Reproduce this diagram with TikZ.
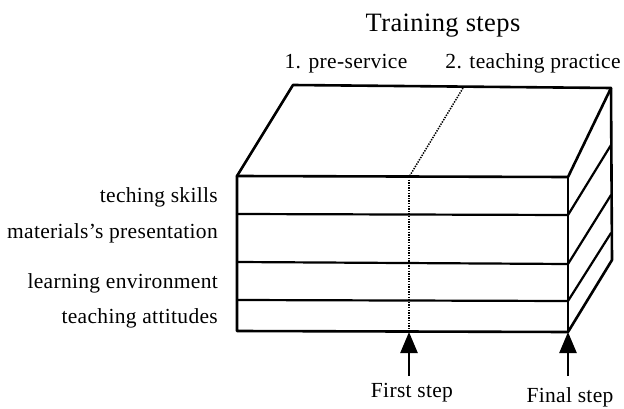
\documentclass[tikz,border=0pt]{standalone}
\usepackage{fontspec}
\setmainfont{Liberation Serif}[LetterSpace=1.5]
\usetikzlibrary{arrows.meta}
\begin{document}
\begin{tikzpicture}[x=1pt,y=-1pt,
  edge/.style={line width=2.6pt, line join=round, line cap=round},
  thin edge/.style={line width=2.2pt, line cap=round},
  dotline/.style={line width=1.8pt, dash pattern=on 1.4pt off 1.2pt},
  label/.style={font=\fontsize{21.5}{24}\selectfont, inner sep=0pt},
  rowlabel/.style={label, anchor=base east},
  steparrow/.style={line width=2.4pt, -{Triangle[length=21pt,width=17pt]}}]
\useasboundingbox (0,0) rectangle (624,409);
% corners
\coordinate (FTL) at (237,176);
\coordinate (FTR) at (568,177);
\coordinate (FBL) at (237,331);
\coordinate (FBR) at (568,332);
\coordinate (BTL) at (293,85);
\coordinate (BTR) at (611,88);
\coordinate (BBR) at (612,260);
% row lines
\coordinate (L1) at (237,214); \coordinate (R1) at (568,215);
\coordinate (L2) at (237,262); \coordinate (R2) at (568,264);
\coordinate (L3) at (237,300); \coordinate (R3) at (568,301);
\coordinate (S1) at (611,145);
\coordinate (S2) at (611,195);
\coordinate (S3) at (611,233);
% middle division
\coordinate (MT) at (409,177);
\coordinate (MB) at (409,332);
\coordinate (MBack) at (463,88);
\coordinate (T1) at (409,376);
\coordinate (T2) at (568,376);
% box
\draw[edge] (FTL) -- (BTL) -- (BTR) -- (BBR) -- (FBR) -- (FBL) -- cycle;
\draw[edge] (FTL) -- (FTR) -- (BTR);
\draw[edge] (FTR) -- (FBR);
\draw[thin edge] (L1) -- (R1) -- (S1);
\draw[thin edge] (L2) -- (R2) -- (S2);
\draw[thin edge] (L3) -- (R3) -- (S3);
\draw[dotline, line width=1.5pt] (MBack) -- (MT);
\draw[dotline] (MT) -- (MB);
% arrows
\draw[steparrow] (T1) -- (MB);
\draw[steparrow] (T2) -- (FBR);
% texts
\node[label, font=\fontsize{26.5}{30}\selectfont, anchor=base] (title) at (443,32) {Training steps};
\node[label, anchor=base] (pre) at (346,69) {1. pre-service};
\node[label, anchor=base] (prac) at (533,69) {2. teaching practice};
\node[rowlabel] (r1) at (218,202) {teching skills};
\node[rowlabel] (r2) at (218,238) {materials's presentation};
\node[rowlabel] (r3) at (218,288) {learning environment};
\node[rowlabel] (r4) at (218,323) {teaching attitudes};
\node[label, anchor=base] (first) at (412,397) {First step};
\node[label, anchor=base] (final) at (570,402) {Final step};
\end{tikzpicture}
\end{document}
